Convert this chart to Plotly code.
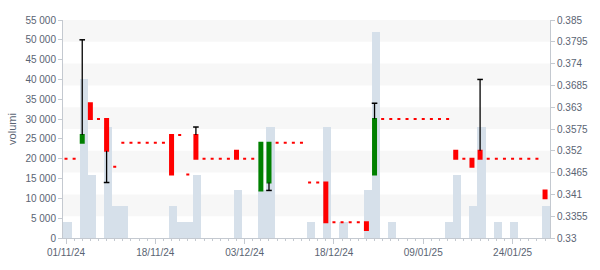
import plotly.graph_objects as go

# Trading days (ordinal axis)
dates = [
    "01/11/24", "04/11/24", "05/11/24", "06/11/24", "07/11/24", "08/11/24",
    "11/11/24", "12/11/24", "13/11/24", "14/11/24", "15/11/24", "18/11/24",
    "19/11/24", "20/11/24", "21/11/24", "22/11/24", "25/11/24", "26/11/24",
    "27/11/24", "28/11/24", "29/11/24",
    "02/12/24", "03/12/24", "04/12/24", "05/12/24", "06/12/24", "09/12/24",
    "10/12/24", "11/12/24", "12/12/24", "13/12/24", "16/12/24", "17/12/24",
    "18/12/24", "19/12/24", "20/12/24", "23/12/24", "27/12/24", "30/12/24",
    "02/01/25", "03/01/25", "06/01/25", "07/01/25", "08/01/25", "09/01/25",
    "10/01/25", "13/01/25", "14/01/25", "15/01/25", "16/01/25", "17/01/25",
    "20/01/25", "21/01/25", "22/01/25", "23/01/25", "24/01/25", "27/01/25",
    "28/01/25", "29/01/25", "30/01/25",
]

open_ = [0.350, 0.350, 0.354, 0.364, 0.360, 0.360, 0.348, 0.354, 0.354, 0.354,
         0.354, 0.354, 0.354, 0.356, 0.356, 0.346, 0.356, 0.350, 0.350, 0.350,
         0.350, 0.352, 0.350, 0.350, 0.342, 0.344, 0.354, 0.354, 0.354, 0.354,
         0.344, 0.344, 0.344, 0.334, 0.334, 0.334, 0.334, 0.334, 0.346, 0.360,
         0.360, 0.360, 0.360, 0.360, 0.360, 0.360, 0.360, 0.360, 0.352, 0.350,
         0.350, 0.352, 0.350, 0.350, 0.350, 0.350, 0.350, 0.350, 0.350, 0.342]
high = [0.350, 0.350, 0.380, 0.364, 0.360, 0.360, 0.348, 0.354, 0.354, 0.354,
        0.354, 0.354, 0.354, 0.356, 0.356, 0.346, 0.358, 0.350, 0.350, 0.350,
        0.350, 0.352, 0.350, 0.350, 0.354, 0.354, 0.354, 0.354, 0.354, 0.354,
        0.344, 0.344, 0.344, 0.334, 0.334, 0.334, 0.334, 0.334, 0.364, 0.360,
        0.360, 0.360, 0.360, 0.360, 0.360, 0.360, 0.360, 0.360, 0.352, 0.350,
        0.350, 0.370, 0.350, 0.350, 0.350, 0.350, 0.350, 0.350, 0.350, 0.342]
low = [0.350, 0.350, 0.354, 0.360, 0.360, 0.344, 0.348, 0.354, 0.354, 0.354,
       0.354, 0.354, 0.354, 0.346, 0.356, 0.346, 0.350, 0.350, 0.350, 0.350,
       0.350, 0.350, 0.350, 0.350, 0.342, 0.342, 0.354, 0.354, 0.354, 0.354,
       0.344, 0.344, 0.334, 0.334, 0.334, 0.334, 0.334, 0.332, 0.346, 0.360,
       0.360, 0.360, 0.360, 0.360, 0.360, 0.360, 0.360, 0.360, 0.350, 0.350,
       0.348, 0.350, 0.350, 0.350, 0.350, 0.350, 0.350, 0.350, 0.350, 0.340]
close = [0.350, 0.350, 0.356, 0.360, 0.360, 0.352, 0.348, 0.354, 0.354, 0.354,
         0.354, 0.354, 0.354, 0.346, 0.356, 0.346, 0.350, 0.350, 0.350, 0.350,
         0.350, 0.350, 0.350, 0.350, 0.354, 0.354, 0.354, 0.354, 0.354, 0.354,
         0.344, 0.344, 0.334, 0.334, 0.334, 0.334, 0.334, 0.332, 0.360, 0.360,
         0.360, 0.360, 0.360, 0.360, 0.360, 0.360, 0.360, 0.360, 0.350, 0.350,
         0.348, 0.350, 0.350, 0.350, 0.350, 0.350, 0.350, 0.350, 0.350, 0.340]
volume = [4000, 0, 40000, 16000, 0, 28000, 8000, 8000, 0, 0,
          0, 0, 0, 8000, 4000, 4000, 16000, 0, 0, 0,
          0, 12000, 0, 0, 12000, 28000, 0, 0, 0, 0,
          4000, 0, 28000, 0, 4000, 0, 0, 12000, 52000, 0,
          4000, 0, 0, 0, 0, 0, 0, 4000, 16000, 0,
          8000, 28000, 0, 4000, 0, 4000, 0, 0, 0, 8000]

tick_labels = ["01/11/24", "18/11/24", "03/12/24", "18/12/24", "09/01/25", "24/01/25"]
volume_ticks = list(range(0, 55001, 5000))
price_ticks = [0.33, 0.3355, 0.341, 0.3465, 0.352, 0.3575, 0.363, 0.3685, 0.374, 0.3795, 0.385]
price_tick_text = ["0.33", "0.3355", "0.341", "0.3465", "0.352", "0.3575", "0.363",
                   "0.3685", "0.374", "0.3795", "0.385"]

x = list(range(len(dates)))
body_top = [max(o, c) for o, c in zip(open_, close)]
body_bot = [min(o, c) for o, c in zip(open_, close)]

TEXT = "#5a6473"
AXIS = "#c4c9d0"
GREEN = "#008000"
RED = "#ff0000"

fig = go.Figure()

# volume bars (left axis)
fig.add_trace(go.Bar(
    x=x, y=volume, width=1, offset=-0.32,
    marker=dict(color="#d6e0ea", line=dict(width=0)),
    yaxis="y", hoverinfo="skip",
))

# candle bodies (right axis): rising days green, all others (incl. flat) red
for rising, col in ((True, GREEN), (False, RED)):
    sel = [i for i in x if (close[i] > open_[i]) == rising]
    fig.add_trace(go.Candlestick(
        x=sel,
        open=[open_[i] for i in sel], close=[close[i] for i in sel],
        high=[body_top[i] for i in sel], low=[body_bot[i] for i in sel],
        increasing=dict(fillcolor=col, line=dict(color=col, width=2)),
        decreasing=dict(fillcolor=col, line=dict(color=col, width=2)),
        whiskerwidth=0, yaxis="y2", hoverinfo="skip",
    ))

# wicks
wx, wy, cx, cy = [], [], [], []
for i in x:
    if high[i] > body_top[i]:
        wx += [i, i, None]
        wy += [body_top[i], high[i], None]
        cx.append(i)
        cy.append(high[i])
    if low[i] < body_bot[i]:
        wx += [i, i, None]
        wy += [body_bot[i], low[i], None]
        cx.append(i)
        cy.append(low[i])
fig.add_trace(go.Scatter(
    x=wx, y=wy, mode="lines", line=dict(color="black", width=1.3),
    yaxis="y2", hoverinfo="skip",
))
fig.add_trace(go.Scatter(
    x=cx, y=cy, mode="markers",
    marker=dict(symbol="line-ew", size=4, line=dict(width=1.5, color="black")),
    yaxis="y2", hoverinfo="skip",
))

# alternating bands
shapes = []
for k in range(1, len(price_ticks) - 1, 2):
    shapes.append(dict(type="rect", xref="paper", yref="y2", x0=0, x1=1,
                       y0=price_ticks[k], y1=price_ticks[k + 1],
                       fillcolor="#f7f7f7", line=dict(width=0), layer="below"))

fig.update_layout(
    width=600, height=270,
    margin=dict(l=61, r=49, t=20, b=30),
    paper_bgcolor="white", plot_bgcolor="white",
    showlegend=False,
    separators=". ",
    font=dict(family="Liberation Sans, Arial, sans-serif", size=10, color=TEXT),
    bargap=0, boxgap=0.63, boxgroupgap=0, boxmode="overlay",
    shapes=shapes,
    xaxis=dict(
        range=[-0.37, 59.61],
        tickmode="array", tickvals=[dates.index(t) for t in tick_labels], ticktext=tick_labels,
        ticks="outside", ticklen=5, tickcolor=AXIS,
        minor=dict(tickmode="linear", tick0=0, dtick=1, ticks="outside", ticklen=2, tickcolor=AXIS),
        showline=True, linecolor=AXIS, linewidth=1,
        showgrid=False, zeroline=False,
        rangeslider=dict(visible=False),
        tickfont=dict(size=10, color=TEXT),
    ),
    yaxis=dict(
        range=[0, 55000], tickmode="array", tickvals=volume_ticks, tickformat=",.0f",
        ticks="outside", ticklen=4, tickcolor=AXIS,
        showline=True, linecolor=AXIS, linewidth=1,
        showgrid=False, zeroline=False,
        title=dict(text="volumi", font=dict(size=11, color=TEXT), standoff=6),
        tickfont=dict(size=10, color=TEXT),
    ),
    yaxis2=dict(
        overlaying="y", side="right", anchor="x",
        range=[0.33, 0.385], tickmode="array", tickvals=price_ticks, ticktext=price_tick_text,
        ticks="outside", ticklen=4, tickcolor=AXIS,
        showline=True, linecolor=AXIS, linewidth=1,
        showgrid=False, zeroline=False,
        tickfont=dict(size=10, color=TEXT),
    ),
)

fig.write_html("out.html")
